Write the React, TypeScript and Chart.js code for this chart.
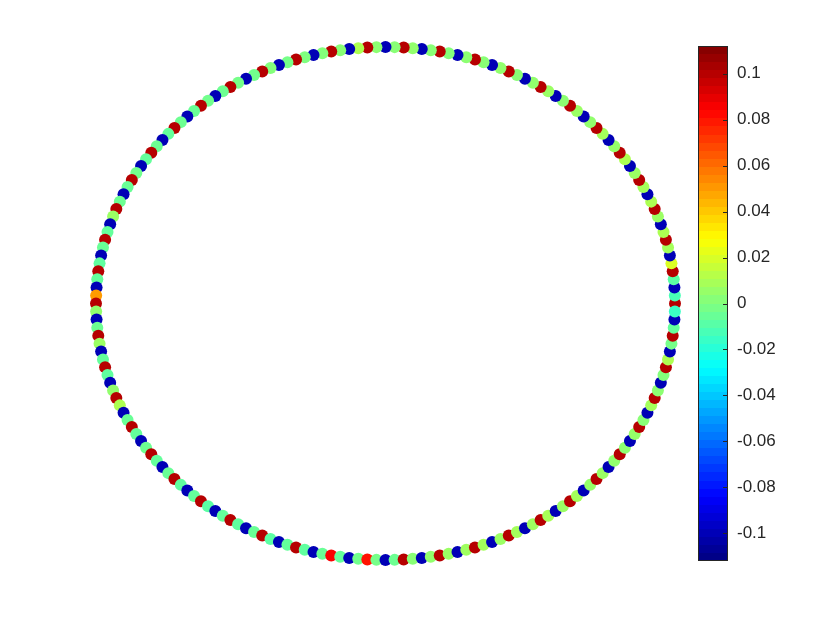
import React, { useEffect, useRef } from "react";
import { Chart, registerables } from "chart.js";

Chart.register(...registerables);

// Value of each node on the ring, node 0 at angle 0, going counter-clockwise
const NODE_VALUES: number[] = [
  0.1, -0.012, -0.1, -0.008, 0.1, 0.02, -0.1, 0.008, 0.1, 0.01,
  -0.1, 0.006, 0.1, 0.01, -0.1, 0.008, 0.1, 0.006, -0.1, 0.01,
  0.1, 0.005, -0.1, 0.008, 0.1, 0.004, -0.1, 0.006, 0.1, 0.003,
  -0.1, 0.006, 0.1, 0.004, -0.1, 0.002, 0.1, 0.004, -0.1, 0.002,
  0.1, 0.003, -0.1, 0.001, 0.1, 0.002, -0.1, 0.004, 0.1, 0.002,
  -0.1, 0.003, 0.1, 0.01, -0.1, 0.002, 0.1, 0.001, -0.1, 0,
  0.1, -0.002, -0.1, 0.001, 0.1, -0.003, -0.1, -0.002, 0.1, -0.004,
  -0.1, -0.003, 0.1, -0.005, -0.1, -0.004, 0.1, -0.006, -0.1, -0.004,
  0.1, -0.006, -0.1, -0.003, 0.1, -0.005, -0.1, -0.004, 0.1, 0.006,
  -0.1, -0.006, 0.1, -0.005, -0.1, -0.007, 0.1, -0.006, -0.1, 0.05,
  0.1, 0.004, -0.1, -0.004, 0.1, 0.006, -0.1, -0.006, 0.1, -0.007,
  -0.1, 0.004, 0.1, 0.01, -0.1, -0.005, 0.1, -0.006, -0.1, -0.004,
  0.1, -0.006, -0.1, -0.005, 0.1, -0.007, -0.1, -0.006, 0.1, -0.008,
  -0.1, -0.006, 0.1, -0.007, -0.1, -0.005, 0.1, -0.008, -0.1, -0.006,
  0.1, -0.007, -0.1, -0.005, 0.085, -0.006, -0.1, -0.003, 0.08, -0.002,
  -0.1, -0.004, 0.1, 0.002, -0.1, 0.004, 0.1, 0.006, -0.1, 0.007,
  0.1, 0.008, -0.1, 0.006, 0.1, 0.008, -0.1, 0.007, 0.1, 0.009,
  -0.1, 0.006, 0.1, 0.008, -0.1, 0.005, 0.1, 0.006, -0.1, 0.004,
  0.1, 0.003, -0.1, 0.005, 0.1, 0.002, -0.1, 0.008, 0.1, 0.003,
  -0.1, 0.001, 0.1, 0.01, -0.1, -0.002, 0.1, -0.006, -0.1, -0.015,
];

const COLOR_MIN = -0.112;
const COLOR_MAX = 0.112;
const COLORBAR_TICKS: number[] = [-0.1, -0.08, -0.06, -0.04, -0.02, 0, 0.02, 0.04, 0.06, 0.08, 0.1];

const FONT_FAMILY = "'Liberation Sans', Arial, Helvetica, sans-serif";
const TEXT_COLOR = "#262626";

function clamp01(v: number): number {
  return Math.max(0, Math.min(1, v));
}

function jetRGB(t: number): [number, number, number] {
  const r = clamp01(1.5 - Math.abs(4 * t - 3));
  const g = clamp01(1.5 - Math.abs(4 * t - 2));
  const b = clamp01(1.5 - Math.abs(4 * t - 1));
  return [Math.round(r * 255), Math.round(g * 255), Math.round(b * 255)];
}

function valueColor(v: number): string {
  const t = clamp01((v - COLOR_MIN) / (COLOR_MAX - COLOR_MIN));
  const [r, g, b] = jetRGB(t);
  return `rgb(${r},${g},${b})`;
}

function fmtTick(v: number): string {
  const r = Math.round(v * 100) / 100;
  return r === 0 ? "0" : String(r);
}

const colorbarPlugin = {
  id: "colorbarFill",
  beforeDraw(chart: any) {
    const { ctx, chartArea } = chart;
    const { left, right, top, bottom } = chartArea;
    const grad = ctx.createLinearGradient(0, bottom, 0, top);
    const steps = 64;
    for (let i = 0; i < steps; i++) {
      const c = jetRGB((i + 0.5) / steps);
      const col = `rgb(${c[0]},${c[1]},${c[2]})`;
      grad.addColorStop(i / steps, col);
      grad.addColorStop((i + 1) / steps - 1e-6, col);
    }
    ctx.save();
    ctx.fillStyle = grad;
    ctx.fillRect(left, top, right - left, bottom - top);
    ctx.restore();
  },
  afterDraw(chart: any) {
    const { ctx, chartArea } = chart;
    const { left, right, top, bottom } = chartArea;
    const yScale = chart.scales.y;
    ctx.save();
    ctx.strokeStyle = TEXT_COLOR;
    ctx.lineWidth = 1;
    ctx.strokeRect(left + 0.5, top + 0.5, right - left - 1, bottom - top - 1);
    ctx.beginPath();
    for (const v of COLORBAR_TICKS) {
      const y = Math.round(yScale.getPixelForValue(v)) + 0.5;
      ctx.moveTo(right - 5, y);
      ctx.lineTo(right, y);
    }
    ctx.stroke();
    ctx.restore();
  },
};

export default function App() {
  const mainRef = useRef<HTMLCanvasElement>(null);
  const barRef = useRef<HTMLCanvasElement>(null);

  useEffect(() => {
    if (!mainRef.current || !barRef.current) return;
    const n = NODE_VALUES.length;
    const points = NODE_VALUES.map((_, i) => {
      const a = (2 * Math.PI * i) / n;
      return { x: Math.cos(a), y: Math.sin(a) };
    });
    const colors = NODE_VALUES.map(valueColor);

    const main = new Chart(mainRef.current, {
      type: "scatter",
      data: {
        datasets: [
          {
            data: points,
            pointRadius: 6,
            pointBackgroundColor: colors,
            pointBorderWidth: 0,
            borderWidth: 0,
            showLine: false,
            clip: false,
          } as any,
        ],
      },
      options: {
        animation: false,
        responsive: false,
        events: [],
        plugins: { legend: { display: false }, tooltip: { enabled: false } },
        layout: { padding: { left: 96, right: 165, top: 47, bottom: 70 } },
        scales: {
          x: { type: "linear", min: -1, max: 1, display: false },
          y: { type: "linear", min: -1, max: 1, display: false },
        },
      },
    });

    const bar = new Chart(barRef.current, {
      type: "scatter",
      data: { datasets: [] },
      options: {
        animation: false,
        responsive: false,
        events: [],
        plugins: { legend: { display: false }, tooltip: { enabled: false } },
        layout: { padding: { left: 0, right: 0, top: 46, bottom: 69 } },
        scales: {
          x: { type: "linear", min: 0, max: 1, display: false },
          y: {
            type: "linear",
            position: "right",
            min: COLOR_MIN,
            max: COLOR_MAX,
            afterBuildTicks: (s: any) => {
              s.ticks = COLORBAR_TICKS.map((v) => ({ value: v }));
            },
            afterFit: (s: any) => {
              s.width = 112;
            },
            grid: { display: false, drawTicks: false },
            border: { display: false },
            ticks: {
              callback: (v: any) => fmtTick(Number(v)),
              color: TEXT_COLOR,
              font: { family: FONT_FAMILY, size: 17 },
              padding: 9,
            },
          },
        },
      },
      plugins: [colorbarPlugin],
    });

    return () => {
      main.destroy();
      bar.destroy();
    };
  }, []);

  return (
    <div style={{ position: "fixed", left: 0, top: 0, width: 840, height: 630, background: "#ffffff" }}>
      <canvas ref={mainRef} width={840} height={630} style={{ position: "absolute", left: 0, top: 0 }} />
      <canvas ref={barRef} width={142} height={630} style={{ position: "absolute", left: 698, top: 0 }} />
    </div>
  );
}
